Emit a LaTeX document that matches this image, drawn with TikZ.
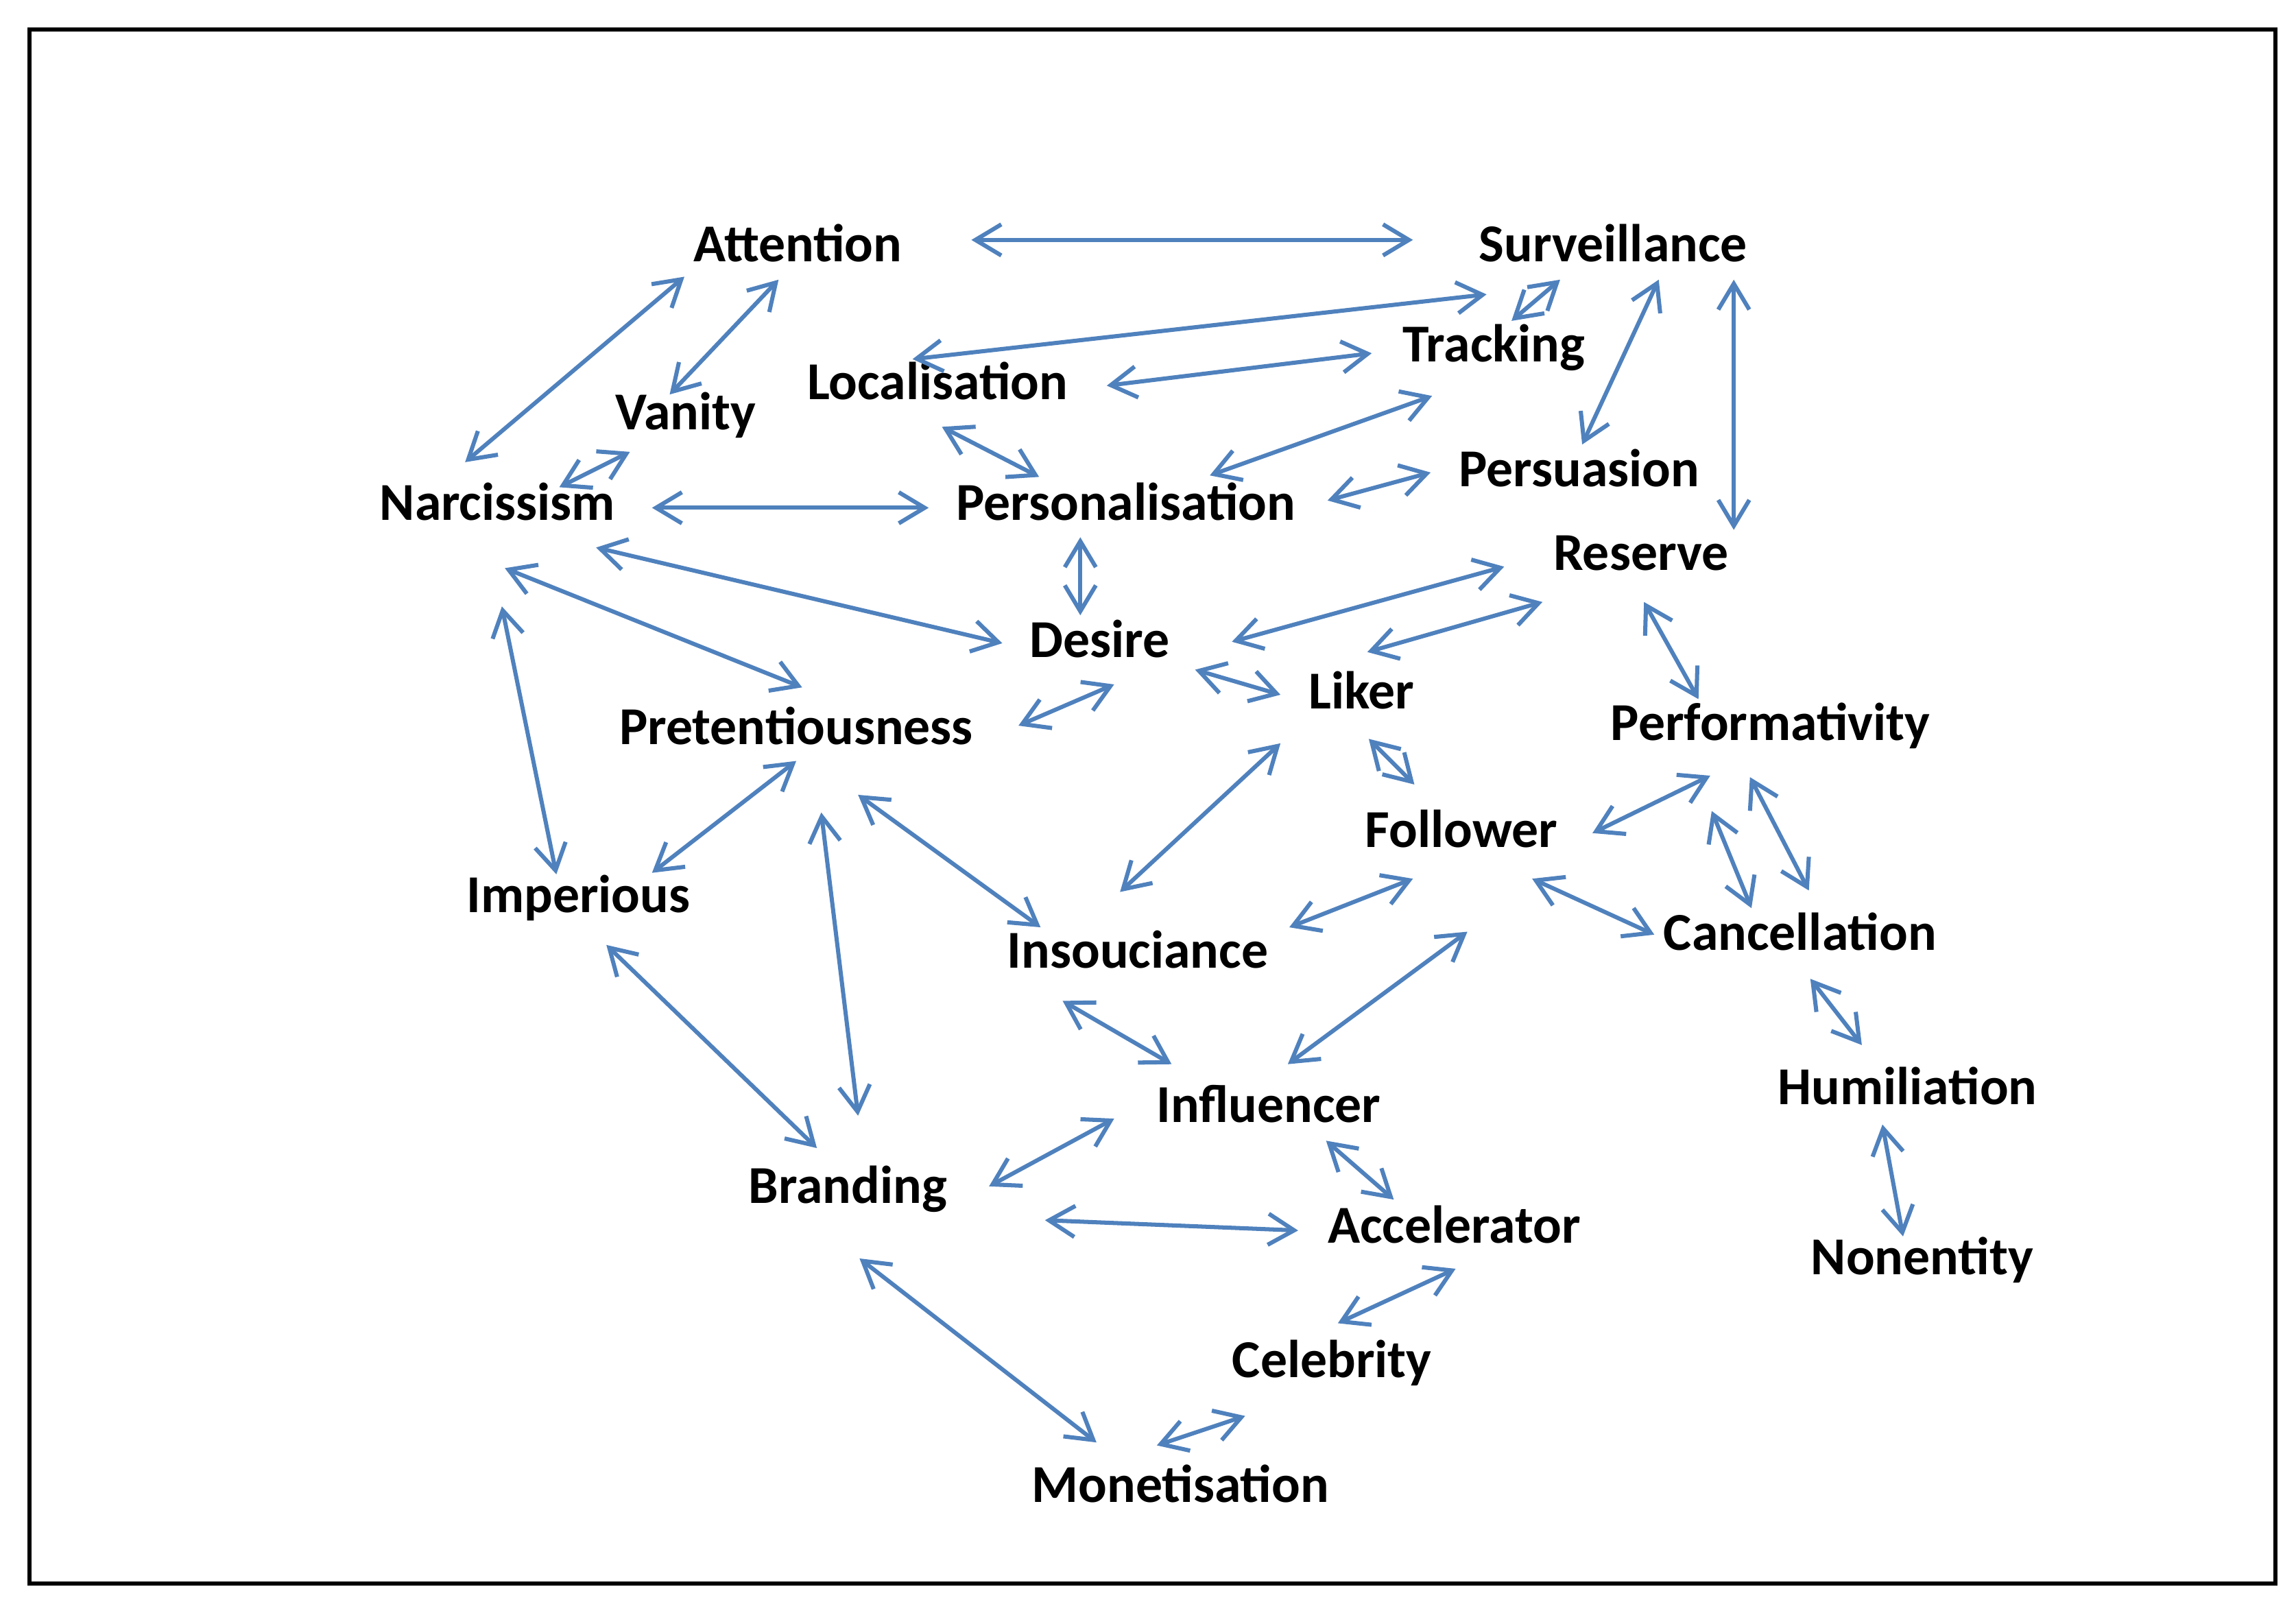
\documentclass[tikz,border=0pt]{standalone}
\usepackage{fontspec}
\setmainfont{Carlito}
\usetikzlibrary{arrows.meta}
\definecolor{ab}{RGB}{79,129,189}
\newcommand\myedge[3]{\coordinate (#1a) at (#2); \coordinate (#1b) at (#3); \draw[a] (#1a) -- (#1b);}
\begin{document}
\begin{tikzpicture}[x=0.01cm,y=-0.01cm,
  t/.style={font=\bfseries\fontsize{10.3}{12}\selectfont,inner sep=0pt},
  a/.style={draw=ab,line width=0.8pt,{Straight Barb[length=5pt,width=6pt]}-{Straight Barb[length=5pt,width=6pt]}}]
\useasboundingbox (0,0) rectangle (1560,1087);
\draw[line width=0.8pt] (20,20) rectangle (1546,1076);
\node[t] (Att) at (542,165) {Attention};
\node[t] (Sur) at (1096,165) {Surveillance};
\node[t] (Tra) at (1015,236) {Tracking};
\node[t] (Loc) at (637,259) {Localisation};
\node[t] (Van) at (466,282) {Vanity};
\node[t] (Per) at (1073,318) {Persuasion};
\node[t] (Nar) at (338,341) {Narcissism};
\node[t] (Pers) at (765,341) {Personalisation};
\node[t] (Res) at (1115,376) {Reserve};
\node[t] (Des) at (747,434) {Desire};
\node[t] (Lik) at (925,469) {Liker};
\node[t] (Pre) at (541,493) {Pretentiousness};
\node[t] (Perf) at (1203,493) {Performativity};
\node[t] (Fol) at (993,563) {Follower};
\node[t] (Imp) at (393,610) {Imperious};
\node[t] (Can) at (1223,633) {Cancellation};
\node[t] (Ins) at (773,645) {Insouciance};
\node[t] (Hum) at (1296,738) {Humiliation};
\node[t] (Inf) at (862,750) {Influencer};
\node[t] (Bra) at (576,808) {Branding};
\node[t] (Acc) at (988,832) {Accelerator};
\node[t] (Non) at (1306,856) {Nonentity};
\node[t] (Cel) at (905,926) {Celebrity};
\node[t] (Mon) at (802,1008) {Monetisation};
\myedge{e1}{660,163}{960,163}
\myedge{e2}{465,188}{316,314}
\myedge{e3}{529,190}{455,268}
\myedge{e4}{428,307}{380,331}
\myedge{e5}{1010,200}{620,244}
\myedge{e6}{1060,190}{1027,218}
\myedge{e7}{1127,190}{1075,302}
\myedge{e8}{1178,190}{1178,360}
\myedge{e9}{752,262}{932,240}
\myedge{e10}{640,290}{706,324}
\myedge{e11}{973,269}{822,323}
\myedge{e12}{902,340}{972,321}
\myedge{e13}{443,345}{631,345}
\myedge{e14}{734,365}{734,418}
\myedge{e15}{405,372}{681,437}
\myedge{e16}{343,386}{545,467}
\myedge{e17}{341,412}{378,594}
\myedge{e18}{1022,385}{837,436}
\myedge{e19}{1048,409}{929,443}
\myedge{e20}{1117,409}{1154,475}
\myedge{e21}{812,455}{870,472}
\myedge{e22}{757,465}{692,493}
\myedge{e23}{930,502}{961,533}
\myedge{e24}{870,505}{761,606}
\myedge{e25}{541,517}{443,593}
\myedge{e26}{583,540}{707,630}
\myedge{e27}{558,552}{583,758}
\myedge{e28}{1162,527}{1082,566}
\myedge{e29}{1163,551}{1190,617}
\myedge{e30}{1189,528}{1229,605}
\myedge{e31}{960,597}{876,630}
\myedge{e32}{1041,597}{1124,635}
\myedge{e33}{997,633}{875,723}
\myedge{e34}{1230,665}{1265,710}
\myedge{e35}{1279,764}{1293,840}
\myedge{e36}{412,642}{555,780}
\myedge{e37}{722,680}{796,723}
\myedge{e38}{757,760}{672,806}
\myedge{e39}{901,775}{947,815}
\myedge{e40}{710,829}{882,836}
\myedge{e41}{989,862}{909,899}
\myedge{e42}{584,855}{745,980}
\myedge{e43}{846,962}{786,982}
\end{tikzpicture}
\end{document}
